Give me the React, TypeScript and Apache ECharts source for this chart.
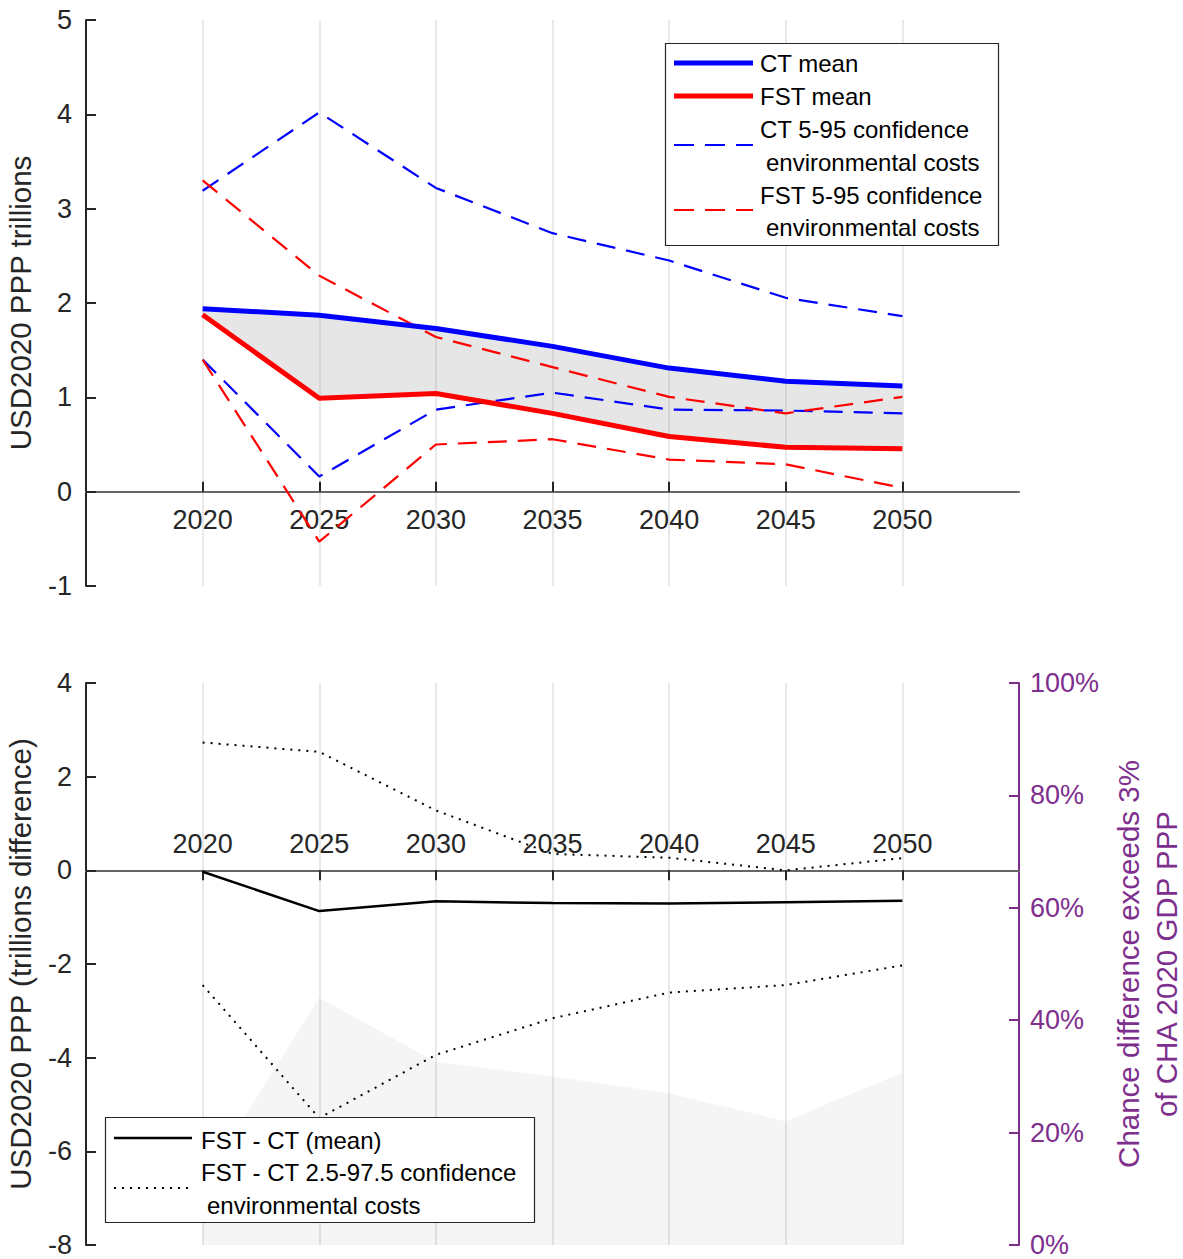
import React, { useEffect, useRef } from "react";
import * as echarts from "echarts";

const years = [2020, 2025, 2030, 2035, 2040, 2045, 2050];
const xTicks = [2020, 2025, 2030, 2035, 2040, 2045, 2050];

// Top panel (USD2020 PPP trillions)
const ctMean = [1.94, 1.87, 1.73, 1.54, 1.31, 1.17, 1.12];
const fstMean = [1.875, 0.99, 1.04, 0.83, 0.585, 0.47, 0.455];
const ctUpper = [3.19, 4.02, 3.22, 2.74, 2.45, 2.055, 1.86];
const ctLower = [1.4, 0.16, 0.87, 1.05, 0.87, 0.86, 0.83];
const fstUpper = [3.3, 2.29, 1.64, 1.32, 1.005, 0.83, 1.005];
const fstLower = [1.4, -0.53, 0.5, 0.556, 0.34, 0.29, 0.04];

// Bottom panel (trillions difference) and chance (%)
const diffMean = [-0.03, -0.87, -0.66, -0.7, -0.71, -0.68, -0.65];
const diffUpper = [2.73, 2.53, 1.28, 0.35, 0.27, 0.0, 0.26];
const diffLower = [-2.45, -5.29, -3.94, -3.16, -2.61, -2.45, -2.03];
const chancePct = [11, 44, 32.6, 30, 27, 22, 30.7];

const topYTicks = { min: -1, max: 5, interval: 1 };
const botYTicks = { min: -8, max: 4, interval: 2 };
const pctTicks = { min: 0, max: 100, interval: 20 };

const FONT = "'Liberation Sans', Arial, sans-serif";
const AX = "#262626";
const PURPLE = "#7E2F8E";
const TICK_FS = 27;
const NAME_FS = 29.5;
const LEG_FS = 24;

const GRIDS = [
  { left: 86, top: 20, width: 933, height: 566 },
  { left: 86, top: 683, width: 933, height: 562 },
];

const zip = (xs: number[], ys: number[]) => xs.map((x, i) => [x, ys[i]]);

export default function App() {
  const ref = useRef<HTMLDivElement>(null);
  useEffect(() => {
    document.body.style.margin = "0";
    const chart = echarts.init(ref.current!, null, { renderer: "svg" });

    const xAxisCommon = (gridIndex: number, labelInside: boolean, tickInside: boolean) => ({
      type: "value",
      gridIndex,
      position: "bottom",
      offset: 0,
      min: 2015,
      max: 2055,
      interval: 5,
      axisLine: { show: true, onZero: false, lineStyle: { color: "#666666", width: 2 } },
      axisTick: { show: true, inside: tickInside, length: 10, customValues: xTicks, lineStyle: { color: AX, width: 2 } },
      axisLabel: {
        show: true,
        inside: labelInside,
        customValues: xTicks,
        margin: labelInside ? 13 : 15,
        fontSize: TICK_FS,
        color: AX,
        fontFamily: FONT,
        formatter: (v: number) => String(v),
      },
      splitLine: { show: true, lineStyle: { color: "#e2e2e2", width: 1.5 } },
    });

    const leftY = (gridIndex: number, t: any, name: string) => ({
      type: "value",
      gridIndex,
      position: "left",
      min: t.min,
      max: t.max,
      interval: t.interval,
      name,
      nameLocation: "middle",
      nameGap: 42,
      nameRotate: 90,
      nameTextStyle: { fontSize: NAME_FS, color: AX, fontFamily: FONT, lineHeight: 34 },
      axisLine: { show: true, onZero: false, lineStyle: { color: AX, width: 2 } },
      axisTick: { show: true, inside: true, length: 10, lineStyle: { color: AX, width: 2 } },
      axisLabel: { fontSize: TICK_FS, color: AX, fontFamily: FONT, margin: 14 },
      splitLine: { show: false },
    });

    const dashed = (color: string, data: number[]) => ({
      type: "line",
      xAxisIndex: 0,
      yAxisIndex: 0,
      data: zip(years, data),
      symbol: "none",
      silent: true,
      lineStyle: { color, width: 2.2, type: [19, 11] },
      z: 3,
    });

    const textStyle = { fontSize: LEG_FS, fontFamily: FONT, fill: "#000", align: "left", verticalAlign: "middle" };

    const option: any = {
      animation: false,
      backgroundColor: "#ffffff",
      grid: GRIDS.map((g) => ({ ...g, containLabel: false, outerBoundsMode: "none" })),
      xAxis: [xAxisCommon(0, false, true), xAxisCommon(1, true, false)],
      yAxis: [
        leftY(0, topYTicks, "USD2020 PPP trillions"),
        leftY(1, botYTicks, "USD2020 PPP (trillions difference)"),
        {
          type: "value",
          gridIndex: 1,
          position: "right",
          min: pctTicks.min,
          max: pctTicks.max,
          interval: pctTicks.interval,
          name: "Chance difference exceeds 3%\nof CHA 2020 GDP PPP",
          nameLocation: "middle",
          nameGap: 86,
          nameRotate: 90,
          nameTextStyle: { fontSize: NAME_FS, color: PURPLE, fontFamily: FONT, lineHeight: 38, align: "center" },
          axisLine: { show: true, onZero: false, lineStyle: { color: PURPLE, width: 2 } },
          axisTick: { show: true, inside: true, length: 10, lineStyle: { color: PURPLE, width: 2 } },
          axisLabel: { fontSize: TICK_FS, color: PURPLE, fontFamily: FONT, margin: 11, formatter: "{value}%" },
          splitLine: { show: false },
        },
      ],
      series: [
        {
          type: "custom",
          xAxisIndex: 0,
          yAxisIndex: 0,
          silent: true,
          z: 1,
          data: zip(years, ctMean),
          renderItem: (params: any, api: any) => {
            if (params.dataIndex !== 0) return null;
            const upper = years.map((y, i) => api.coord([y, ctMean[i]]));
            const lower = years.map((y, i) => api.coord([y, fstMean[i]])).reverse();
            return {
              type: "polygon",
              shape: { points: upper.concat(lower) },
              style: { fill: "rgba(128,128,128,0.2)", stroke: "none" },
            };
          },
        },
        dashed("#0000FF", ctUpper),
        dashed("#0000FF", ctLower),
        dashed("#FF0000", fstUpper),
        dashed("#FF0000", fstLower),
        {
          type: "line",
          xAxisIndex: 0,
          yAxisIndex: 0,
          data: zip(years, ctMean),
          symbol: "none",
          silent: true,
          lineStyle: { color: "#0000FF", width: 5 },
          z: 4,
        },
        {
          type: "line",
          xAxisIndex: 0,
          yAxisIndex: 0,
          data: zip(years, fstMean),
          symbol: "none",
          silent: true,
          lineStyle: { color: "#FF0000", width: 5 },
          z: 4,
        },
        {
          type: "line",
          xAxisIndex: 1,
          yAxisIndex: 2,
          data: zip(years, chancePct),
          symbol: "none",
          silent: true,
          lineStyle: { width: 0, opacity: 0 },
          areaStyle: { color: "rgba(0,0,0,0.055)", origin: "start" },
          z: 1,
        },
        {
          type: "line",
          xAxisIndex: 1,
          yAxisIndex: 1,
          data: zip(years, diffUpper),
          symbol: "none",
          silent: true,
          lineStyle: { color: "#000000", width: 2, type: [2, 6] },
          z: 3,
        },
        {
          type: "line",
          xAxisIndex: 1,
          yAxisIndex: 1,
          data: zip(years, diffLower),
          symbol: "none",
          silent: true,
          lineStyle: { color: "#000000", width: 2, type: [2, 6] },
          z: 3,
        },
        {
          type: "line",
          xAxisIndex: 1,
          yAxisIndex: 1,
          data: zip(years, diffMean),
          symbol: "none",
          silent: true,
          lineStyle: { color: "#000000", width: 2.5 },
          z: 4,
        },
      ],
      graphic: [
        // Top legend
        { type: "rect", z: 100, shape: { x: 665.5, y: 43.5, width: 333, height: 202 }, style: { fill: "#ffffff", stroke: "#262626", lineWidth: 1.2 } },
        { type: "line", z: 101, shape: { x1: 674, y1: 63, x2: 753, y2: 63 }, style: { stroke: "#0000FF", lineWidth: 5 } },
        { type: "line", z: 101, shape: { x1: 674, y1: 96, x2: 753, y2: 96 }, style: { stroke: "#FF0000", lineWidth: 5 } },
        { type: "line", z: 101, shape: { x1: 674, y1: 145, x2: 753, y2: 145 }, style: { stroke: "#0000FF", lineWidth: 2.2, lineDash: [20, 11] } },
        { type: "line", z: 101, shape: { x1: 674, y1: 210, x2: 753, y2: 210 }, style: { stroke: "#FF0000", lineWidth: 2.2, lineDash: [20, 11] } },
        { type: "text", z: 101, x: 760, y: 63, style: { ...textStyle, text: "CT mean" } },
        { type: "text", z: 101, x: 760, y: 96, style: { ...textStyle, text: "FST mean" } },
        { type: "text", z: 101, x: 760, y: 129, style: { ...textStyle, text: "CT 5-95 confidence" } },
        { type: "text", z: 101, x: 766, y: 162, style: { ...textStyle, text: "environmental costs" } },
        { type: "text", z: 101, x: 760, y: 195, style: { ...textStyle, text: "FST 5-95 confidence" } },
        { type: "text", z: 101, x: 766, y: 227, style: { ...textStyle, text: "environmental costs" } },
        // Bottom legend
        { type: "rect", z: 100, shape: { x: 105.5, y: 1117.5, width: 429, height: 105 }, style: { fill: "#ffffff", stroke: "#262626", lineWidth: 1.2 } },
        { type: "line", z: 101, shape: { x1: 114, y1: 1138, x2: 192, y2: 1138 }, style: { stroke: "#000000", lineWidth: 2.5 } },
        { type: "line", z: 101, shape: { x1: 114, y1: 1188, x2: 192, y2: 1188 }, style: { stroke: "#000000", lineWidth: 2, lineDash: [2, 6] } },
        { type: "text", z: 101, x: 201, y: 1140, style: { ...textStyle, text: "FST - CT (mean)" } },
        { type: "text", z: 101, x: 201, y: 1172, style: { ...textStyle, text: "FST - CT 2.5-97.5 confidence" } },
        { type: "text", z: 101, x: 207, y: 1205, style: { ...textStyle, text: "environmental costs" } },
      ],
    };

    chart.setOption(option);

    // Move each x axis (line, ticks, labels) onto its y = 0 line, using the library's own scale.
    const zeroTop = chart.convertToPixel({ yAxisIndex: 0 } as any, 0) as number;
    const zeroBot = chart.convertToPixel({ yAxisIndex: 1 } as any, 0) as number;
    const bottomTop = GRIDS[0].top + GRIDS[0].height;
    const bottomBot = GRIDS[1].top + GRIDS[1].height;
    chart.setOption({
      xAxis: [{ offset: zeroTop - bottomTop }, { offset: zeroBot - bottomBot }],
    });

    return () => chart.dispose();
  }, []);

  return <div ref={ref} style={{ width: 1183, height: 1259 }} />;
}
